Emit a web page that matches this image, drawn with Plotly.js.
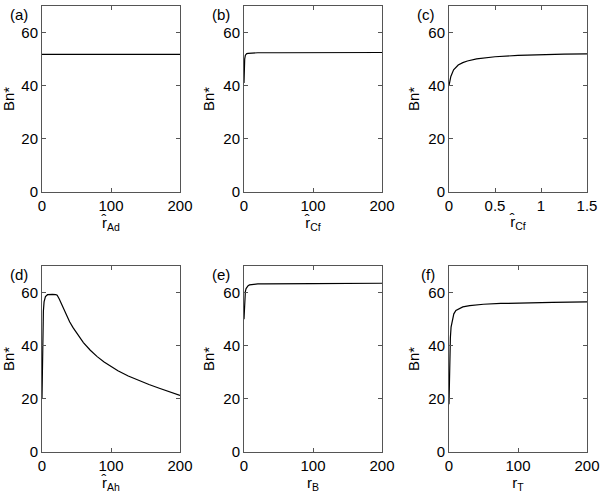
<!DOCTYPE html>
<html>
<head>
<meta charset="utf-8">
<script src="https://cdn.plot.ly/plotly-3.0.1.min.js"></script>
<style>
  body { margin: 0; background: #fff; }
  #chart { width: 600px; height: 500px; }
</style>
</head>
<body>
<div id="chart"></div>
<script>
// valores
const xA = [0, 50, 100, 150, 200];
const yA = [51.8, 51.8, 51.8, 51.8, 51.8];

const xB = [0, 0.5, 1, 2, 3, 4, 6, 10, 20, 50, 100, 200];
const yB = [41, 47, 50, 51.5, 51.9, 52.1, 52.2, 52.3, 52.4, 52.4, 52.5, 52.5];

const xC = [0, 0.01, 0.02, 0.05, 0.1, 0.15, 0.2, 0.3, 0.5, 0.75, 1, 1.25, 1.5];
const yC = [40, 42, 43.5, 46, 47.8, 48.7, 49.3, 50.1, 50.9, 51.4, 51.7, 51.9, 52];

const xD = [0, 0.5, 1, 2, 3, 5, 8, 10, 15, 20, 22, 25, 30, 35, 40, 45, 50, 60, 70, 80, 90, 100, 110, 125, 140, 155, 170, 185, 200];
const yD = [20, 35, 45, 53, 56.5, 58.5, 59.2, 59.3, 59.3, 59.2, 59, 57.6, 54.5, 51.5, 49, 46.8, 44.8, 41.2, 38.3, 35.9, 33.9, 32.1, 30.6, 28.6, 26.9, 25.4, 24, 22.6, 21.3];

const xE = [0, 0.5, 1, 2, 3, 4, 6, 8, 12, 15, 20, 30, 50, 100, 200];
const yE = [50, 55, 58, 60.5, 61.5, 62.1, 62.6, 62.9, 63.1, 63.2, 63.3, 63.3, 63.4, 63.4, 63.5];

const xF = [0, 0.5, 1, 1.5, 2, 3, 5, 7, 10, 15, 20, 30, 50, 75, 100, 150, 200];
const yF = [18, 28, 35, 39.5, 43, 47, 50.2, 52, 53.3, 54.1, 54.6, 55.1, 55.6, 55.9, 56.1, 56.3, 56.5];

const panelLabels = ['(a)', '(b)', '(c)', '(d)', '(e)', '(f)'];
const xTitles = ['r̂<sub>Ad</sub>', 'r̂<sub>Cf</sub>', 'r̂<sub>Cf</sub>', 'r̂<sub>Ah</sub>', 'r<sub>B</sub>', 'r<sub>T</sub>'];
const yTicks = [0, 20, 40, 60];

const series = [[xA, yA], [xB, yB], [xC, yC], [xD, yD], [xE, yE], [xF, yF]];

// posiciones de cada panel en pixeles (izq, der, arriba, abajo)
const cols = [[42, 180], [244, 382], [449, 587]];
const rows = [[6, 192], [266, 452]];

const data = [];
const layout = {
    width: 600,
    height: 500,
    margin: {l: 0, r: 0, t: 0, b: 0},
    paper_bgcolor: '#fff',
    plot_bgcolor: '#fff',
    showlegend: false,
    font: {family: 'Liberation Sans, Arial, sans-serif', size: 15, color: '#000'},
    annotations: []
};

series.forEach((s, i) => {
    const n = i + 1;
    const col = cols[i % 3];
    const row = rows[Math.floor(i / 3)];
    data.push({
        x: s[0], y: s[1],
        xaxis: 'x' + n, yaxis: 'y' + n,
        type: 'scatter', mode: 'lines',
        line: {color: '#000', width: 1.2},
        hoverinfo: 'skip'
    });

    const isC = (i === 2);
    layout['xaxis' + n] = {
        domain: [col[0] / 600, col[1] / 600],
        anchor: 'y' + n,
        range: isC ? [0, 1.5] : [0, 200],
        tickvals: isC ? [0, 0.5, 1, 1.5] : [0, 100, 200],
        ticktext: isC ? ['0', '0.5', '1', '1.5'] : ['0', '100', '200'],
        ticks: 'inside', ticklen: 4, tickcolor: '#555',
        showline: true, linecolor: '#555', linewidth: 1, mirror: 'ticks',
        showgrid: false, zeroline: false,
        tickfont: {size: 15},
        title: {text: xTitles[i], font: {size: 15}, standoff: 3}
    };
    layout['yaxis' + n] = {
        domain: [1 - row[1] / 500, 1 - row[0] / 500],
        anchor: 'x' + n,
        range: [0, 70],
        tickvals: yTicks,
        ticks: 'inside', ticklen: 4, tickcolor: '#555',
        showline: true, linecolor: '#555', linewidth: 1, mirror: 'ticks',
        showgrid: false, zeroline: false,
        tickfont: {size: 15},
        title: {text: 'Bn*', font: {size: 15}, standoff: 5}
    };

    layout.annotations.push({
        text: panelLabels[i],
        xref: 'paper', yref: 'paper',
        x: (col[0] - 12) / 600, y: 1 - (row[0] - 2) / 500,
        xanchor: 'right', yanchor: 'top',
        showarrow: false,
        font: {size: 15}
    });
});

Plotly.newPlot('chart', data, layout, {staticPlot: true});
</script>
</body>
</html>
